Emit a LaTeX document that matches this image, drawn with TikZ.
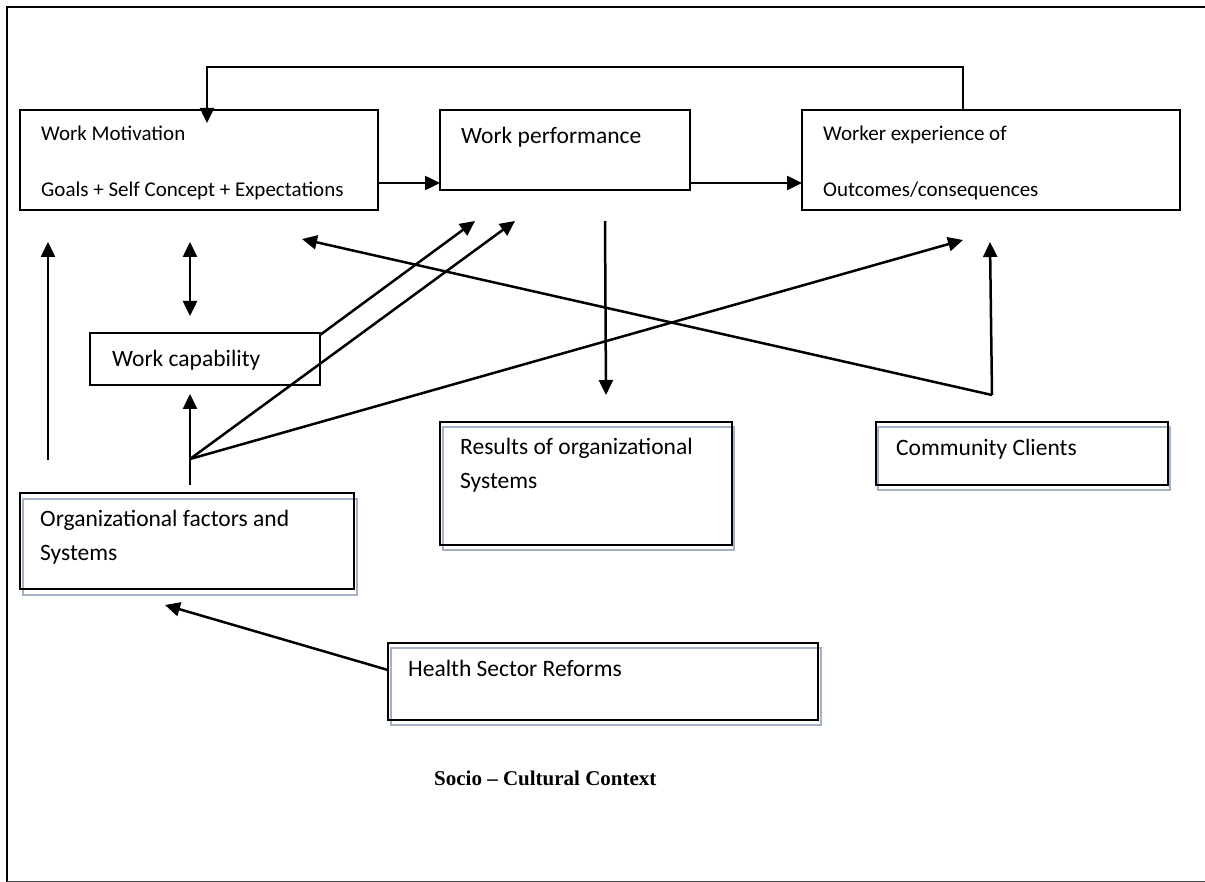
\documentclass[tikz,border=0pt]{standalone}
\usepackage{fontspec}
\setmainfont{Carlito}
\newfontfamily\socfont{Liberation Serif}
\usetikzlibrary{arrows.meta}
\definecolor{shadowc}{RGB}{165,178,198}
\begin{document}
\begin{tikzpicture}[x=1pt,y=-1pt,
  box/.style={draw, line width=1.7pt, anchor=north west, inner sep=0pt, outer sep=0pt},
  tbox/.style={draw, line width=1.1pt, anchor=north west, inner sep=0pt, outer sep=0pt},
  shbox/.style={draw=shadowc, line width=1.1pt, anchor=north west, inner sep=0pt, outer sep=0pt},
  lbl/.style={anchor=base west, inner sep=0pt, font=\fontsize{21}{25}\selectfont},
  lblL/.style={anchor=base west, inner sep=0pt, font=\fontsize{23.5}{28}\selectfont},
  arr/.style={line width=2.5pt, -{Triangle[length=15pt,width=14pt]}},
  darr/.style={line width=2.5pt, {Triangle[length=15pt,width=14pt]}-{Triangle[length=15pt,width=14pt]}},
  ln/.style={line width=2.5pt}]
\useasboundingbox (0,0) rectangle (1205,882);
% outer frame
\draw[line width=1.6pt] (1205,7) -- (7,7) -- (7,882);
\draw[line width=1pt, black!70] (7,881) -- (1205,881);

% top boxes
\node[box, minimum width=358pt, minimum height=100pt] (wm) at (20,110) {};
\node[box, minimum width=250pt, minimum height=80pt] (wp) at (440,110) {};
\node[box, minimum width=378pt, minimum height=100pt] (we) at (802,110) {};
\node[lbl] (wmt1) at (41,141) {Work Motivation};
\node[lbl] (wet1) at (823,141) {Worker experience of};
\begin{scope}
  \clip (0,0) rectangle (1205,199.5);
  \node[lbl] (wmt2) at (41,197) {Goals + Self Concept + Expectations};
  \node[lbl] (wet2) at (823,197) {Outcomes/consequences};
\end{scope}
\node[lblL] (wpt) at (461,144) {Work performance};

% work capability
\node[box, minimum width=230pt, minimum height=52pt] (wc) at (90,333) {};
\node[lblL] (wct) at (112,367) {Work capability};

% boxes with shadow frames
\node[shbox, minimum width=334pt, minimum height=96pt] (ofs) at (23,499) {};
\node[tbox, minimum width=334pt, minimum height=96pt] (of) at (20,493) {};
\node[lblL] (oft1) at (40,526) {Organizational factors and};
\node[lblL] (oft2) at (40,560) {Systems};

\node[shbox, minimum width=291pt, minimum height=123pt] (ros) at (443,427) {};
\node[tbox, minimum width=292pt, minimum height=123pt] (ro) at (440,422) {};
\node[lblL] (rot1) at (460,454) {Results of organizational};
\node[lblL] (rot2) at (460,488) {Systems};

\node[shbox, minimum width=292pt, minimum height=63pt] (ccs) at (878,427) {};
\node[tbox, minimum width=292pt, minimum height=63pt] (cc) at (876,422) {};
\node[lblL] (cct) at (896,455) {Community Clients};

\node[shbox, minimum width=430pt, minimum height=77pt] (hss) at (391,648) {};
\node[tbox, minimum width=430pt, minimum height=77pt] (hs) at (388,643) {};
\node[lblL] (hst) at (408,676) {Health Sector Reforms};

\node[anchor=base west, inner sep=0pt, font=\socfont\bfseries\fontsize{21}{25}\selectfont] (soc) at (434,785) {Socio – Cultural Context};

% coordinates
\coordinate (fbR) at (963,110);
\coordinate (fbRT) at (963,67);
\coordinate (fbLT) at (207,67);
\coordinate (fbL) at (207,123);
\coordinate (wmR) at (378,183);
\coordinate (wpL) at (440,183);
\coordinate (wpR) at (690,183);
\coordinate (weL) at (802,183);
\coordinate (leftB) at (48,460);
\coordinate (leftT) at (48,242);
\coordinate (dT) at (190,242);
\coordinate (dB) at (190,316);
\coordinate (ofT) at (190,485);
\coordinate (fan) at (190,459);
\coordinate (wcB) at (190,394);
\coordinate (wcC) at (320,335);
\coordinate (tipA) at (475,221);
\coordinate (tipB) at (515,221);
\coordinate (tipWE) at (963,240);
\coordinate (ccV) at (992,395);
\coordinate (ccT) at (990,242);
\coordinate (tipWM) at (302,239);
\coordinate (wpD) at (605,221);
\coordinate (roT) at (606,395);
\coordinate (hsL) at (388,670);
\coordinate (ofB) at (165,605);

% connectors
\draw[arr] (fbR) -- (fbRT) -- (fbLT) -- (fbL);
\draw[arr] (wmR) -- (wpL);
\draw[arr] (wpR) -- (weL);
\draw[arr] (leftB) -- (leftT);
\draw[darr] (dB) -- (dT);
\draw[ln] (ofT) -- (fan);
\draw[arr] (fan) -- (wcB);
\draw[arr] (wcC) -- (tipA);
\draw[arr] (fan) -- (tipB);
\draw[arr] (fan) -- (tipWE);
\draw[arr] (ccV) -- (ccT);
\draw[arr] (ccV) -- (tipWM);
\draw[arr] (wpD) -- (roT);
\draw[arr] (hsL) -- (ofB);
\end{tikzpicture}
\end{document}
